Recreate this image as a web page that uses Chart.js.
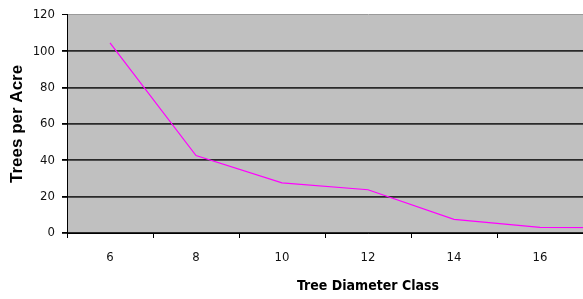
<!DOCTYPE html>
<html>
<head>
<meta charset="utf-8">
<script src="https://cdn.jsdelivr.net/npm/chart.js@4/dist/chart.umd.min.js"></script>
<style>
  html, body { margin: 0; padding: 0; background: #fff; overflow: hidden; }
  #wrap { width: 583px; height: 299px; overflow: hidden; }
</style>
</head>
<body>
<div id="wrap"><canvas id="c" width="680" height="299"></canvas></div>
<script>
const diameters = ["6", "8", "10", "12", "14", "16", "18"];
const treesPerAcre = [104.5, 42.6, 27.6, 23.8, 7.5, 3.1, 3.0];
const yTicks = [0, 20, 40, 60, 80, 100, 120];

const narrow = "'Liberation Sans Narrow', 'Arial Narrow', 'DejaVu Sans Condensed', sans-serif";
const plain = "'Liberation Sans', Arial, sans-serif";

// grey plot background like the old Excel chart
const plotBg = {
    id: "plotBg",
    beforeDraw(chart) {
        const a = chart.chartArea;
        const ctx = chart.ctx;
        ctx.save();
        ctx.fillStyle = "#c0c0c0";
        ctx.fillRect(a.left, a.top, a.right - a.left, a.bottom - a.top);
        ctx.restore();
    },
};

new Chart(document.getElementById("c"), {
    type: "line",
    data: {
        labels: diameters,
        datasets: [
            {
                label: "Trees per Acre",
                data: treesPerAcre,
                borderColor: "#ff00ff",
                borderWidth: 1.2,
                pointRadius: 0,
                tension: 0,
                fill: false,
            },
        ],
    },
    options: {
        responsive: false,
        animation: false,
        layout: { padding: { top: 14, right: 11, left: 0, bottom: 0 } },
        plugins: { legend: { display: false }, tooltip: { enabled: false } },
        scales: {
            x: {
                type: "category",
                offset: true,
                grid: {
                    offset: true,
                    drawOnChartArea: false,
                    drawTicks: true,
                    tickLength: 5,
                    color: "#000",
                },
                border: { color: "#000", width: 1 },
                ticks: {
                    color: "#111",
                    padding: 12,
                    maxRotation: 0,
                    autoSkip: false,
                    font: { family: narrow, size: 13 },
                },
                title: {
                    display: true,
                    text: "Tree Diameter Class",
                    color: "#000",
                    padding: { top: 0, bottom: 4 },
                    font: { family: narrow, size: 14, weight: "bold" },
                },
                afterFit(scale) {
                    scale.height = 66;
                },
            },
            y: {
                min: 0,
                max: 120,
                afterBuildTicks(scale) {
                    scale.ticks = yTicks.map((v) => ({ value: v }));
                },
                grid: {
                    color: (c) => (c.tick && c.tick.value === 120 ? "#9a9a9a" : "#2a2a2a"),
                    lineWidth: (c) => (c.tick && c.tick.value === 120 ? 1 : 1.8),
                    tickLength: 5,
                    tickColor: "#000",
                },
                border: { color: "#000", width: 1 },
                ticks: {
                    color: "#111",
                    padding: 7,
                    font: { family: narrow, size: 13 },
                },
                title: {
                    display: true,
                    text: "Trees per Acre",
                    color: "#000",
                    padding: { top: 7, bottom: 0 },
                    font: { family: plain, size: 17, weight: "bold" },
                },
                afterFit(scale) {
                    scale.width = 67;
                },
            },
        },
    },
    plugins: [plotBg],
});
</script>
</body>
</html>
